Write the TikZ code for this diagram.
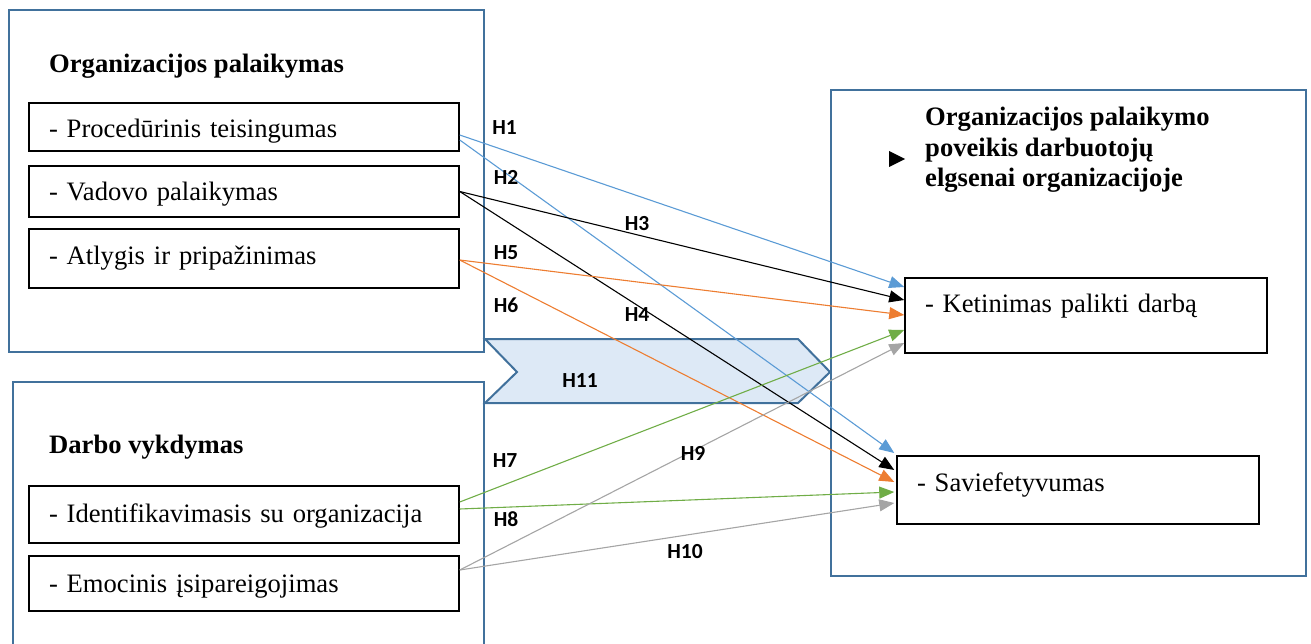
\documentclass[tikz,border=0pt]{standalone}
\usepackage{fontspec}
\setmainfont{Liberation Serif}
\newfontfamily\lblfont{Carlito}
\usetikzlibrary{arrows.meta}
\definecolor{frameblue}{RGB}{65,113,156}
\definecolor{chevfill}{RGB}{221,233,246}
\definecolor{cblue}{RGB}{91,155,213}
\definecolor{corange}{RGB}{237,125,49}
\definecolor{cgreen}{RGB}{112,173,71}
\definecolor{cgray}{RGB}{165,165,165}
\tikzset{
  frame/.style={draw=frameblue, line width=2pt},
  itembox/.style={draw=black, line width=1.5pt, inner xsep=20pt, inner ysep=0pt, align=left,
    font=\fontsize{26.6}{30}\selectfont},
  heading/.style={inner sep=0pt, font=\fontsize{26.6}{30.5}\selectfont\bfseries, align=left},
  hlabel/.style={inner sep=0pt, anchor=base, font=\lblfont\bfseries\fontsize{21.5}{23}\selectfont},
  conn/.style={-{Triangle[length=15pt,width=12pt]}, line width=1.1pt},
}
\begin{document}
\begin{tikzpicture}[x=1pt, y=-1pt]
\useasboundingbox (0,0) rectangle (1311,644);
% outer frames
\draw[frame] (9,10) rectangle (484,352);
\draw[frame] (13,644) -- (13,382) -- (484,382) -- (484,644);
\draw[frame] (831,90) rectangle (1306,576);
% chevron H11
\draw[frame, fill=chevfill] (485,339) -- (798,339) -- (830,372) -- (798,403) -- (485,403) -- (517,372) -- cycle;
% headings
\node[heading, anchor=base west] (t1) at (49,73) {Organizacijos palaikymas};
\node[heading, anchor=base west] (t2) at (49,453) {Darbo vykdymas};
\node[heading, anchor=base west] (t3) at (925,187) {Organizacijos palaikymo\\poveikis darbuotojų\\elgsenai organizacijoje};
\fill (889,151) -- (905,159) -- (889,167) -- cycle;
% item boxes
\node[itembox, text width=390pt, text height=35pt, text depth=13pt] (p1) at (244,127) {- Procedūrinis teisingumas};
\node[itembox, text width=390pt, text height=35pt, text depth=16pt] (p2) at (244,191.5) {- Vadovo palaikymas};
\node[itembox, text width=390pt, text height=36pt, text depth=23pt] (p3) at (244,258.5) {- Atlygis ir pripažinimas};
\node[itembox, text width=390pt, text height=36pt, text depth=21pt] (d1) at (244,514.5) {- Identifikavimasis su organizacija};
\node[itembox, text width=390pt, text height=36pt, text depth=19pt] (d2) at (244,583.5) {- Emocinis įsipareigojimas};
\node[itembox, text width=322pt, text height=34pt, text depth=41pt] (k) at (1086,315.5) {- Ketinimas palikti darbą};
\node[itembox, text width=322pt, text height=35pt, text depth=33pt] (s) at (1078,490) {- Saviefetyvumas};
% connectors
\draw[conn, cblue] ([yshift=-8pt]p1.east) -- ([yshift=28.5pt]k.west);
\draw[conn, cblue] ([yshift=-13pt]p1.east) -- ([xshift=-2pt,yshift=37pt]s.west);
\draw[conn, black] (p2.east) -- ([yshift=15.5pt]k.west);
\draw[conn, black] (p2.east) -- ([xshift=-2pt,yshift=20pt]s.west);
\draw[conn, corange] ([yshift=-1.5pt]p3.east) -- ([yshift=0.5pt]k.west);
\draw[conn, corange] ([yshift=-1.5pt]p3.east) -- ([xshift=-2pt,yshift=8pt]s.west);
\draw[conn, cgreen] ([yshift=12.5pt]d1.east) -- ([yshift=-14.5pt]k.west);
\draw[conn, cgreen] ([yshift=5.5pt]d1.east) -- ([xshift=-2pt,yshift=-2pt]s.west);
\draw[conn, cgray] ([yshift=13.5pt]d2.east) -- ([yshift=-27.5pt]k.west);
\draw[conn, cgray] ([yshift=13.5pt]d2.east) -- ([xshift=-2pt,yshift=-13pt]s.west);
% labels
\node[hlabel] (h1) at (504.5,135) {H1};
\node[hlabel] (h2) at (506,185) {H2};
\node[hlabel] (h3) at (637,231) {H3};
\node[hlabel] (h5) at (506,260) {H5};
\node[hlabel] (h6) at (506,312) {H6};
\node[hlabel] (h4) at (637,321) {H4};
\node[hlabel] (h11) at (580,387) {H11};
\node[hlabel] (h7) at (505,467) {H7};
\node[hlabel] (h9) at (693,460) {H9};
\node[hlabel] (h8) at (506,526) {H8};
\node[hlabel] (h10) at (685,558) {H10};
\end{tikzpicture}
\end{document}
